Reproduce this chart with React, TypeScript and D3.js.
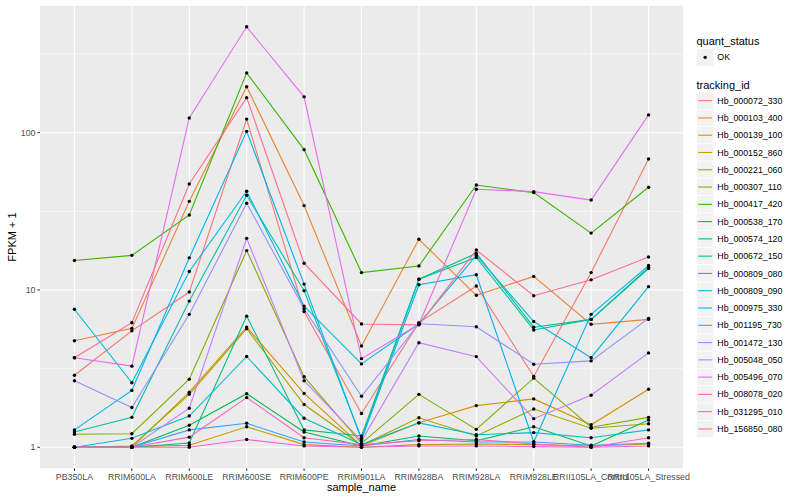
import React from "react";
import * as d3 from "d3";

const samples = ["PB350LA","RRIM600LA","RRIM600LE","RRIM600SE","RRIM600PE","RRIM901LA","RRIM928BA","RRIM928LA","RRIM928LE","RRII105LA_Control","RRII105LA_Stressed"];

const trackingIds = ["Hb_000072_330","Hb_000103_400","Hb_000139_100","Hb_000152_860","Hb_000221_060","Hb_000307_110","Hb_000417_420","Hb_000538_170","Hb_000574_120","Hb_000672_150","Hb_000809_080","Hb_000809_090","Hb_000975_330","Hb_001195_730","Hb_001472_130","Hb_005048_050","Hb_005496_070","Hb_008078_020","Hb_031295_010","Hb_156850_080"];

const palette = ["#F8766D","#EA8331","#D89000","#C09B00","#A3A500","#7CAE00","#39B600","#00BB4E","#00BF7D","#00C1A3","#00BFC4","#00BAE0","#00B0F6","#35A2FF","#9590FF","#C77CFF","#E76BF3","#FA62DB","#FF62BC","#FF6C91"];

// FPKM + 1 per sample, one array per tracking_id
const hb000072_330 = [2.87, 5.5, 9.7, 122, 7.3, 1.64, 6.2, 10.6, 2.82, 12.9, 68];
const hb000103_400 = [4.76, 5.7, 36.6, 196, 34.4, 4.4, 21.0, 9.25, 12.2, 6.05, 6.5];
const hb000139_100 = [1.0, 1.0, 2.24, 5.81, 2.2, 1.02, 1.43, 1.84, 2.03, 1.39, 2.34];
const hb000152_860 = [1.0, 1.01, 1.03, 1.35, 1.04, 1.0, 1.04, 1.05, 1.04, 1.02, 1.05];
const hb000221_060 = [1.0, 1.02, 2.17, 5.67, 1.87, 1.03, 1.54, 1.18, 1.75, 1.32, 1.41];
const hb000307_110 = [1.21, 1.22, 2.71, 17.8, 2.81, 1.06, 2.17, 1.3, 2.75, 1.34, 1.55];
const hb000417_420 = [15.4, 16.6, 30.0, 240, 78, 12.9, 14.2, 46.5, 41.6, 23.0, 45.0];
const hb000538_170 = [1.0, 1.0, 1.38, 2.19, 1.25, 1.02, 1.18, 1.1, 1.35, 1.02, 1.49];
const hb000574_120 = [1.0, 1.0, 1.065, 6.82, 1.29, 1.18, 11.7, 17.1, 5.8, 6.5, 13.7];
const hb000672_150 = [1.25, 1.55, 8.5, 40, 9.9, 1.14, 11.7, 16.1, 5.57, 6.5, 13.9];
const hb000809_080 = [1.0, 1.14, 1.58, 3.78, 1.53, 1.04, 1.43, 1.2, 1.24, 1.15, 1.29];
const hb000809_090 = [7.54, 2.57, 13.1, 42.4, 7.9, 3.39, 6.1, 16.6, 6.3, 3.71, 10.5];
const hb000975_330 = [1.29, 2.3, 16.0, 102, 10.9, 1.12, 10.8, 12.5, 1.08, 7.0, 14.3];
const hb001195_730 = [1.0, 1.0, 1.29, 1.42, 1.08, 1.02, 1.12, 1.08, 1.08, 1.03, 1.06];
const hb001472_130 = [2.65, 1.79, 7.0, 35.6, 7.6, 2.11, 6.1, 5.84, 3.37, 3.54, 6.6];
const hb005048_050 = [1.0, 1.0, 1.77, 21.3, 2.65, 1.1, 4.62, 3.77, 1.52, 2.14, 3.98];
const hb005496_070 = [3.71, 3.28, 124, 471, 169, 3.66, 6.05, 43.7, 42.2, 37.3, 129.7];
const hb008078_020 = [1.0, 1.0, 1.0, 1.12, 1.02, 1.0, 1.02, 1.02, 1.01, 1.0, 1.02];
const hb031295_010 = [1.0, 1.0, 1.16, 2.07, 1.15, 1.04, 1.1, 1.12, 1.05, 1.0, 1.15];
const hb156850_080 = [3.71, 6.19, 47.2, 167, 14.8, 6.08, 6.0, 17.96, 9.2, 11.6, 16.2];

const seriesValues = [hb000072_330, hb000103_400, hb000139_100, hb000152_860, hb000221_060, hb000307_110, hb000417_420, hb000538_170, hb000574_120, hb000672_150, hb000809_080, hb000809_090, hb000975_330, hb001195_730, hb001472_130, hb005048_050, hb005496_070, hb008078_020, hb031295_010, hb156850_080];

const yTicks = [1, 10, 100];
const yMinor = [Math.pow(10, 0.5), Math.pow(10, 1.5), Math.pow(10, 2.5)];

const FONT = "'Liberation Sans', Arial, Helvetica, sans-serif";

export default function App() {
  const W = 800, H = 500;
  const pL = 40, pR = 683, pT = 5.8, pB = 468.3;

  const x = d3.scalePoint<string>().domain(samples).range([pL, pR]).padding(0.6);

  const all = seriesValues.flat();
  const lmin = Math.log10(d3.min(all) as number);
  const lmax = Math.log10(d3.max(all) as number);
  const ex = (lmax - lmin) * 0.05;
  const y = d3.scaleLog().domain([Math.pow(10, lmin - ex), Math.pow(10, lmax + ex)]).range([pB, pT]);

  const line = d3.line<number>().x((_, i) => x(samples[i]) as number).y((v) => y(v));

  const legX = 696.5;
  const keyW = 17.3;
  const keyStart = 92;

  return (
    <div style={{ position: "absolute", left: 0, top: 0 }}>
      <svg width={W} height={H} style={{ display: "block", background: "#fff" }} fontFamily={FONT}>
        <rect x={pL} y={pT} width={pR - pL} height={pB - pT} fill="#EBEBEB" />
        {yMinor.map((t) => (
          <line key={"mn" + t} x1={pL} x2={pR} y1={y(t)} y2={y(t)} stroke="#fff" strokeWidth={0.55} />
        ))}
        {yTicks.map((t) => (
          <line key={"mj" + t} x1={pL} x2={pR} y1={y(t)} y2={y(t)} stroke="#fff" strokeWidth={1.1} />
        ))}
        {samples.map((s) => (
          <line key={"vx" + s} x1={x(s)} x2={x(s)} y1={pT} y2={pB} stroke="#fff" strokeWidth={1.1} />
        ))}
        {seriesValues.map((vals, i) => (
          <path key={"l" + i} d={line(vals) as string} fill="none" stroke={palette[i]} strokeWidth={1.1} />
        ))}
        {seriesValues.map((vals, i) =>
          vals.map((v, j) => (
            <circle key={"p" + i + "_" + j} cx={x(samples[j])} cy={y(v)} r={1.7} fill="#000" />
          ))
        )}
        {/* y axis */}
        {yTicks.map((t) => (
          <g key={"yt" + t}>
            <line x1={pL - 2.7} x2={pL} y1={y(t)} y2={y(t)} stroke="#333" strokeWidth={1} />
            <text x={pL - 4.5} y={y(t)} dy="0.35em" textAnchor="end" fontSize={8.8} fill="#4D4D4D">
              {d3.format("d")(t)}
            </text>
          </g>
        ))}
        {/* x axis */}
        {samples.map((s) => (
          <g key={"xt" + s}>
            <line x1={x(s)} x2={x(s)} y1={pB} y2={pB + 2.7} stroke="#333" strokeWidth={1} />
            <text x={x(s)} y={pB + 12} textAnchor="middle" fontSize={8.8} fill="#4D4D4D">
              {s}
            </text>
          </g>
        ))}
        <text x={(pL + pR) / 2} y={491} textAnchor="middle" fontSize={11} fill="#000">sample_name</text>
        <text transform={`translate(16,${(pT + pB) / 2}) rotate(-90)`} textAnchor="middle" fontSize={11} fill="#000">FPKM + 1</text>

        {/* legend: quant_status */}
        <text x={legX} y={44.5} fontSize={11} fill="#000">quant_status</text>
        <rect x={legX} y={48.7} width={keyW} height={keyW} fill="#F2F2F2" stroke="#fff" strokeWidth={0.5} />
        <circle cx={legX + keyW / 2} cy={48.7 + keyW / 2} r={1.7} fill="#000" />
        <text x={legX + keyW + 3.5} y={48.7 + keyW / 2} dy="0.35em" fontSize={8.8} fill="#000">OK</text>

        {/* legend: tracking_id */}
        <text x={legX} y={88.5} fontSize={11} fill="#000">tracking_id</text>
        {trackingIds.map((id, i) => {
          const ky = keyStart + i * 17.28;
          return (
            <g key={"lg" + id}>
              <rect x={legX} y={ky} width={keyW} height={17.28} fill="#F2F2F2" stroke="#fff" strokeWidth={0.6} />
              <line x1={legX + 1.7} x2={legX + keyW - 1.7} y1={ky + 8.64} y2={ky + 8.64} stroke={palette[i]} strokeWidth={1.1} />
              <text x={legX + keyW + 3.5} y={ky + 8.64} dy="0.35em" fontSize={8.8} fill="#000">{id}</text>
            </g>
          );
        })}
      </svg>
    </div>
  );
}
